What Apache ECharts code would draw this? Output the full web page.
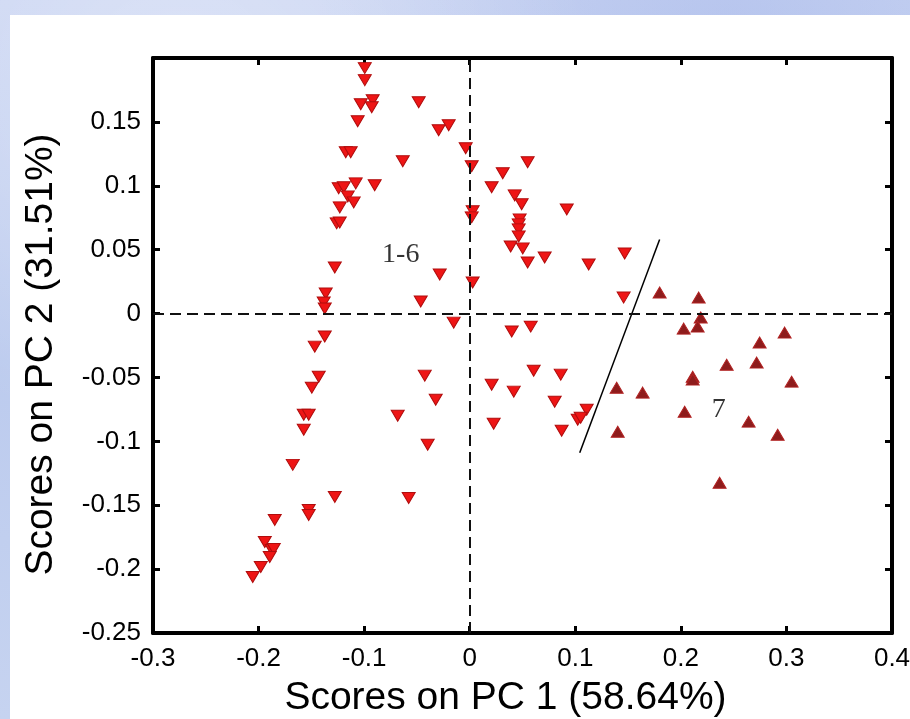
<!DOCTYPE html>
<html>
<head>
<meta charset="utf-8">
<script src="https://cdn.jsdelivr.net/npm/echarts@6/dist/echarts.min.js"></script>
<style>
  html, body { margin: 0; padding: 0; }
  body {
    width: 910px; height: 719px; overflow: hidden; position: relative;
    background:
      radial-gradient(ellipse at 20% 10%, rgba(255,255,255,0.35), rgba(255,255,255,0) 40%),
      radial-gradient(ellipse at 80% 5%, rgba(150,170,230,0.35), rgba(150,170,230,0) 40%),
      linear-gradient(180deg, #c9d4f2 0%, #bccbee 50%, #c6d3f0 100%);
  }
  #sheet { position: absolute; left: 10px; top: 15px; right: 0; bottom: 0; background: #ffffff; }
  #chart { position: absolute; left: 0; top: 0; width: 910px; height: 719px; }
</style>
</head>
<body>
<div id="sheet"></div>
<div id="chart"></div>
<script>
// Axis ticks
const xTicks = [-0.3, -0.2, -0.1, 0, 0.1, 0.2, 0.3, 0.4];
const yTicks = [-0.25, -0.2, -0.15, -0.1, -0.05, 0, 0.05, 0.1, 0.15];
const yTop = 0.2;

// PCA scores, samples of classes 1-6 (PC1, PC2)
const scores16 = [
  [-0.0994, 0.1921], [-0.0994, 0.1827], [-0.1032, 0.1638], [-0.0919, 0.1670],
  [-0.0928, 0.1615], [-0.0483, 0.1654], [-0.1061, 0.1505], [-0.0294, 0.1435],
  [-0.0199, 0.1474], [-0.1174, 0.1262], [-0.1127, 0.1262], [-0.0634, 0.1192],
  [-0.1241, 0.0980], [-0.1193, 0.0988], [-0.1080, 0.1019], [-0.0900, 0.1004],
  [-0.1155, 0.0917], [-0.1099, 0.0870], [-0.1231, 0.0831], [-0.1260, 0.0706],
  [-0.1231, 0.0713], [-0.1278, 0.0361], [-0.1364, 0.0157], [-0.1383, 0.0086],
  [-0.1373, 0.0039], [-0.1373, -0.0180], [-0.1468, -0.0259], [-0.1430, -0.0494],
  [-0.1496, -0.0580], [-0.1572, -0.0792], [-0.1525, -0.0792], [-0.1572, -0.0909],
  [-0.1676, -0.1184], [-0.1847, -0.1615], [-0.1941, -0.1788], [-0.1875, -0.1850],
  [-0.1856, -0.1842], [-0.1894, -0.1905], [-0.1979, -0.1984], [-0.2055, -0.2062],
  [-0.1525, -0.1537], [-0.1525, -0.1576], [-0.1278, -0.1435], [-0.0578, -0.1443],
  [-0.0398, -0.1027], [-0.0682, -0.0800], [-0.0322, -0.0674], [-0.0426, -0.0486],
  [-0.0464, 0.0094], [-0.0284, 0.0306], [-0.0152, -0.0071],
  [-0.0038, 0.1294], [0.0019, 0.1153], [0.0028, 0.0800], [0.0019, 0.0753],
  [0.0028, 0.0243], [0.0313, 0.1098], [0.0208, 0.0988], [0.0549, 0.1184],
  [0.0426, 0.0925], [0.0492, 0.0855], [0.0473, 0.0737], [0.0464, 0.0698],
  [0.0464, 0.0659], [0.0464, 0.0604], [0.0388, 0.0525], [0.0502, 0.0510],
  [0.0549, 0.0400], [0.0710, 0.0439], [0.0919, 0.0815], [0.1127, 0.0384],
  [0.1468, 0.0470], [0.1458, 0.0125], [0.0398, -0.0141], [0.0578, -0.0102],
  [0.0606, -0.0447], [0.0862, -0.0478], [0.0208, -0.0557], [0.0417, -0.0611],
  [0.0805, -0.0690], [0.1108, -0.0753], [0.1023, -0.0831], [0.1051, -0.0815],
  [0.0871, -0.0917], [0.0227, -0.0862]
];

// PCA scores, samples of class 7
const scores7 = [
  [0.1799, 0.0165], [0.2169, 0.0125], [0.2188, -0.0031], [0.2159, -0.0102],
  [0.2027, -0.0118], [0.2983, -0.0149], [0.2746, -0.0227], [0.2434, -0.0400],
  [0.2718, -0.0384], [0.2112, -0.0494], [0.2112, -0.0517], [0.3049, -0.0533],
  [0.2036, -0.0768], [0.2642, -0.0846], [0.2917, -0.0949], [0.2367, -0.1324],
  [0.1392, -0.0580], [0.1638, -0.0619], [0.1402, -0.0925]
];

// Separating line between the two groups
const boundary = [[0.1042, -0.1089], [0.1799, 0.0580]];

// Group annotations
const groupNames = ['1-6', '7'];
const groupNamePos = [[-0.0653, 0.0462], [0.2358, -0.0752]];

const near = (v, list) => list.some(t => Math.abs(t - v) < 1e-9);
const fmt = v => String(Math.round(v * 1000) / 1000);

const sans = 'Liberation Sans, Arial, sans-serif';
const tickFont = { color: '#000', fontFamily: sans, fontSize: 26 };
const frameLine = { show: true, onZero: false, lineStyle: { color: '#000', width: 4 } };
const innerTick = { show: true, inside: true, length: 7, lineStyle: { color: '#000', width: 3 } };

const chart = echarts.init(document.getElementById('chart'), null, { renderer: 'canvas' });

chart.setOption({
  backgroundColor: 'transparent',
  animation: false,
  grid: { left: 153, right: 18, top: 58, bottom: 86, containLabel: false, outerBoundsMode: 'none' },
  xAxis: [
    {
      type: 'value', position: 'bottom',
      min: xTicks[0], max: xTicks[xTicks.length - 1], interval: 0.1,
      axisLine: frameLine, axisTick: innerTick, splitLine: { show: false },
      axisLabel: Object.assign({ margin: 13, formatter: v => near(v, xTicks) ? fmt(v) : '' }, tickFont),
      name: 'Scores on PC 1 (58.64%)', nameLocation: 'middle', nameGap: 46,
      nameTextStyle: { color: '#000', fontFamily: sans, fontSize: 39, padding: [0, 34, 0, 0] }
    },
    {
      type: 'value', position: 'top',
      min: xTicks[0], max: xTicks[xTicks.length - 1], interval: 0.1,
      axisLine: frameLine, axisTick: innerTick, splitLine: { show: false },
      axisLabel: { show: false }
    }
  ],
  yAxis: [
    {
      type: 'value', position: 'left',
      min: yTicks[0], max: yTop, interval: 0.05,
      axisLine: frameLine, axisTick: innerTick, splitLine: { show: false },
      axisLabel: Object.assign({ margin: 12, formatter: v => near(v, yTicks) ? fmt(v) : '' }, tickFont),
      name: 'Scores on PC 2 (31.51%)', nameLocation: 'middle', nameGap: 92, nameRotate: 90,
      nameTextStyle: { color: '#000', fontFamily: sans, fontSize: 39, padding: [0, 18, 0, 0] }
    },
    {
      type: 'value', position: 'right',
      min: yTicks[0], max: yTop, interval: 0.05,
      axisLine: frameLine, axisTick: innerTick, splitLine: { show: false },
      axisLabel: { show: false }
    }
  ],
  series: [
    {
      name: '1-6', type: 'scatter', data: scores16,
      symbol: 'triangle', symbolRotate: 180, symbolSize: [13, 11],
      itemStyle: { color: '#ee1515', borderColor: '#b00d0d', borderWidth: 1, opacity: 1 },
      z: 4,
      markLine: {
        silent: true, symbol: 'none', animation: false,
        label: { show: false },
        lineStyle: { color: '#111', width: 2, type: [11, 6] },
        data: [{ xAxis: 0 }, { yAxis: 0 }]
      }
    },
    {
      name: '7', type: 'scatter', data: scores7,
      symbol: 'triangle', symbolSize: [13, 11],
      itemStyle: { color: '#8e1c1c', borderColor: '#b22222', borderWidth: 1, opacity: 1 },
      z: 4
    },
    {
      name: 'boundary', type: 'line', data: boundary,
      showSymbol: false, symbol: 'none',
      lineStyle: { color: '#000', width: 1.5 },
      z: 3
    },
    {
      name: 'groups', type: 'scatter', symbolSize: 0,
      data: groupNames.map((n, i) => ({ name: n, value: groupNamePos[i] })),
      label: {
        show: true, position: 'inside', formatter: '{b}',
        color: '#000', fontFamily: 'Liberation Serif, Times New Roman, serif', fontSize: 28
      },
      z: 5
    }
  ]
});
</script>
</body>
</html>
